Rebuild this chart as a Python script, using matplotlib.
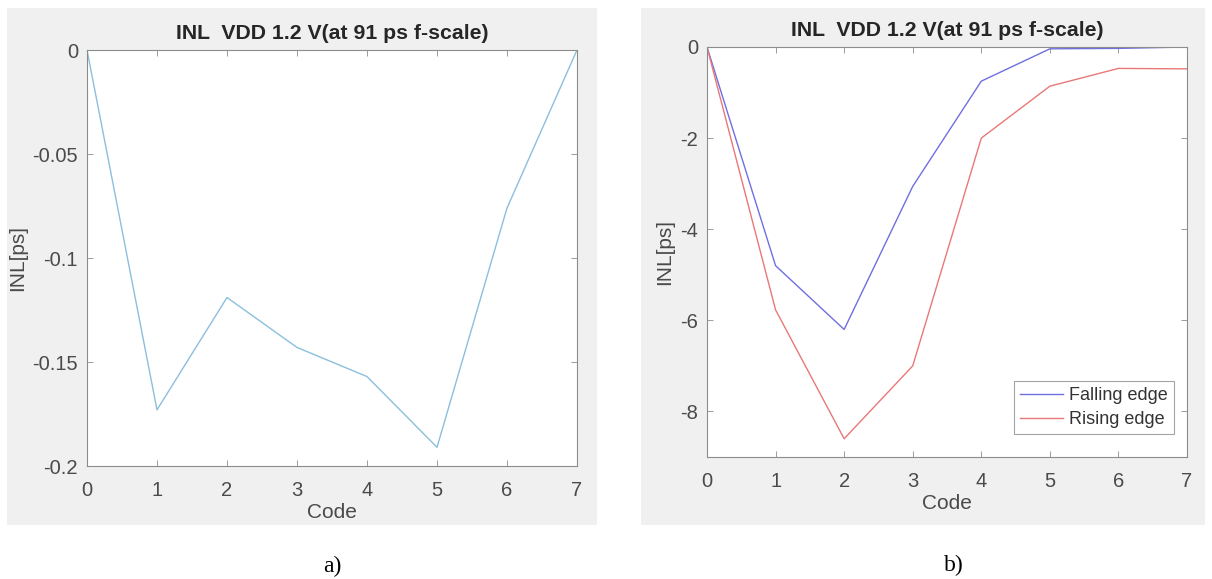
import matplotlib
matplotlib.use("Agg")
import matplotlib.pyplot as plt
from matplotlib.patches import Rectangle

codes = [0, 1, 2, 3, 4, 5, 6, 7]
inl_a = [0, -0.173, -0.119, -0.143, -0.157, -0.191, -0.076, 0]
falling = [0, -4.8, -6.2, -3.06, -0.75, -0.04, -0.03, 0]
rising = [0, -5.77, -8.6, -7.0, -2.0, -0.86, -0.47, -0.48]
yticks_a = [-0.2, -0.15, -0.1, -0.05, 0]
yticklabels_a = ["-0.2", "-0.15", "-0.1", "-0.05", "0"]
yticks_b = [-8, -6, -4, -2, 0]
title = "INL  VDD 1.2 V(at 91 ps f-scale)"

W, H = 1212, 579
fig = plt.figure(figsize=(W / 100, H / 100), dpi=100)
fig.patch.set_facecolor("white")

sans = ["Liberation Sans", "DejaVu Sans"]
tick_col = "#4a4a4a"
edge_col = "#8c8c8c"

def px(x0, y0, x1, y1):
    return [x0 / W, 1 - y1 / H, (x1 - x0) / W, (y1 - y0) / H]

# gray figure-panel backgrounds
for (x0, y0, x1, y1) in [(7, 8, 597, 525), (641, 8, 1205, 525)]:
    fig.patches.append(Rectangle((x0 / W, 1 - y1 / H), (x1 - x0) / W, (y1 - y0) / H,
                                 transform=fig.transFigure, facecolor="#f0f0f0",
                                 edgecolor="none", zorder=-10))

def style(ax):
    ax.set_zorder(5)
    ax.set_facecolor("white")
    for s in ax.spines.values():
        s.set_color(edge_col)
        s.set_linewidth(0.8)
    ax.tick_params(direction="in", top=True, right=True, length=4, width=0.6,
                   color=edge_col, labelcolor=tick_col, labelsize=14.5)
    ax.tick_params(axis="x", pad=11)
    ax.tick_params(axis="y", pad=6.5)
    for lab in ax.get_xticklabels() + ax.get_yticklabels():
        lab.set_family(sans)
    ax.set_xlim(0, 7)
    ax.set_xticks(codes)
    ax.set_xlabel("Code", fontsize=15, color=tick_col, family=sans, labelpad=2)
    ax.set_ylabel("INL[ps]", fontsize=15, color=tick_col, family=sans, labelpad=4)
    ax.set_title(title, fontsize=15.3, fontweight="bold", color="#262626", family=sans, pad=8)

ax1 = fig.add_axes(px(87, 50, 577, 466))
ax1.plot(codes, inl_a, color="#8bbfdd", lw=1.0)
ax1.set_ylim(-0.2, 0)
ax1.set_yticks(yticks_a)
ax1.set_yticklabels(yticklabels_a)
style(ax1)

ax2 = fig.add_axes(px(707, 47, 1187, 457))
ax2.plot(codes, falling, color="#6f6fe0", lw=1.0, label="Falling edge")
ax2.plot(codes, rising, color="#e87878", lw=1.0, label="Rising edge")
ax2.set_ylim(-9, 0)
ax2.set_yticks(yticks_b)
ax2.set_yticklabels([str(v) for v in yticks_b])
style(ax2)
leg = ax2.legend(loc="lower right", bbox_to_anchor=(0.9725, 0.055),
                 frameon=True, fancybox=False, handlelength=2.4, handletextpad=0.3,
                 borderpad=0.35, labelspacing=0.4, borderaxespad=0.0,
                 prop={"family": sans, "size": 13})
leg.get_frame().set_edgecolor(edge_col)
leg.get_frame().set_linewidth(0.8)
for t in leg.get_texts():
    t.set_color("#333333")

fig.text(332 / W, 1 - 566 / H, "a)", ha="center", va="center", fontsize=17,
         family=["Liberation Serif", "DejaVu Serif"])
fig.text(954 / W, 1 - 565 / H, "b)", ha="center", va="center", fontsize=17,
         family=["Liberation Serif", "DejaVu Serif"])

fig.savefig("out.png", dpi=100)
